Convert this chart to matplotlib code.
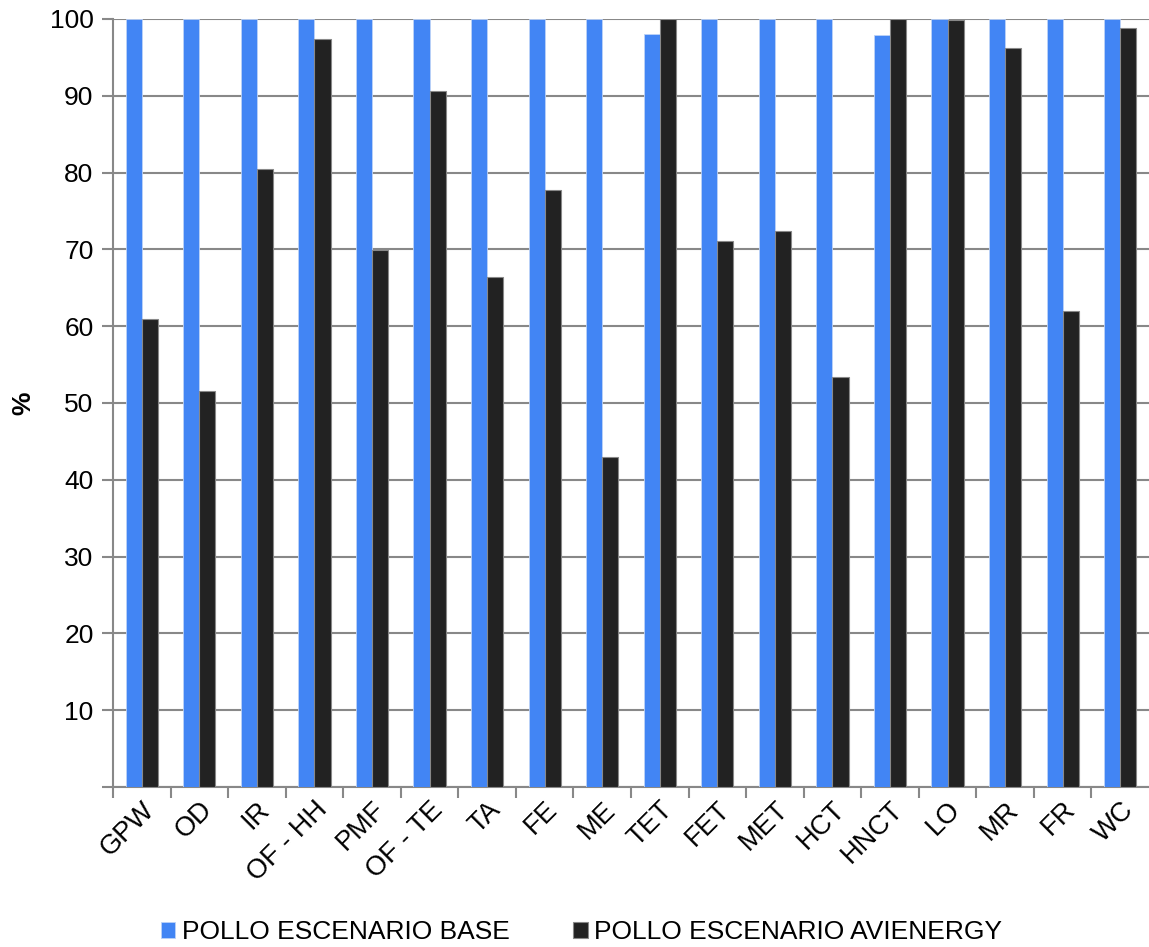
import numpy as np
import matplotlib.pyplot as plt

categories = ["GPW", "OD", "IR", "OF - HH", "PMF", "OF - TE", "TA", "FE", "ME",
              "TET", "FET", "MET", "HCT", "HNCT", "LO", "MR", "FR", "WC"]
base = [100, 100, 100, 100, 100, 100, 100, 100, 100,
        98.0, 100, 100, 100, 97.9, 100, 100, 100, 100]
avienergy = [60.9, 51.5, 80.4, 97.4, 69.9, 90.6, 66.4, 77.7, 43.0,
             100, 71.1, 72.4, 53.4, 100, 99.8, 96.2, 62.0, 98.8]

plt.rcParams['font.family'] = ['Liberation Sans', 'DejaVu Sans']
fs = 19

fig = plt.figure(figsize=(11.49, 9.47), dpi=100)
ax = fig.add_axes([0.0983, 0.169, 0.9017, 0.811])

x = np.arange(len(categories))
w = 0.28
ax.bar(x - w / 2, base, w, color="#4285f4", edgecolor="#bcd2f7", linewidth=0.6,
       label="POLLO ESCENARIO BASE", zorder=3)
ax.bar(x + w / 2, avienergy, w, color="#222222", edgecolor="#888888", linewidth=0.8,
       label="POLLO ESCENARIO AVIENERGY", zorder=3)

ax.set_xlim(-0.5, len(categories) - 0.5)
ax.set_ylim(0, 100)
ax.set_yticks(np.arange(0, 101, 10))
ax.set_yticklabels([""] + [str(v) for v in range(10, 101, 10)], fontsize=fs)
ax.yaxis.grid(True, color="#888888", linewidth=1.5, zorder=0)
ax.set_axisbelow(True)

ax.set_xticks(x - 0.5, minor=False)
ax.set_xticklabels([])
ax.set_xticks(x, minor=True)
ax.set_xticklabels(categories, minor=True, rotation=45, ha="right",
                   rotation_mode="anchor", fontsize=19.5)
ax.tick_params(axis="x", which="major", length=8, width=1.5, color="#888888")
ax.tick_params(axis="x", which="minor", length=0, pad=7)
ax.tick_params(axis="y", length=8, width=1.5, color="#888888", pad=6)

for s in ["top", "right"]:
    ax.spines[s].set_visible(False)
for s in ["left", "bottom"]:
    ax.spines[s].set_color("#888888")
    ax.spines[s].set_linewidth(1.5)

ax.set_ylabel("%", fontsize=fs, fontweight="bold", labelpad=10)

fig.legend(loc="lower center", bbox_to_anchor=(0.506, -0.022), ncol=2, frameon=False,
           fontsize=fs, handlelength=0.55, handleheight=0.55, handletextpad=0.25,
           columnspacing=2.4)

fig.savefig("out.png", dpi=100)
